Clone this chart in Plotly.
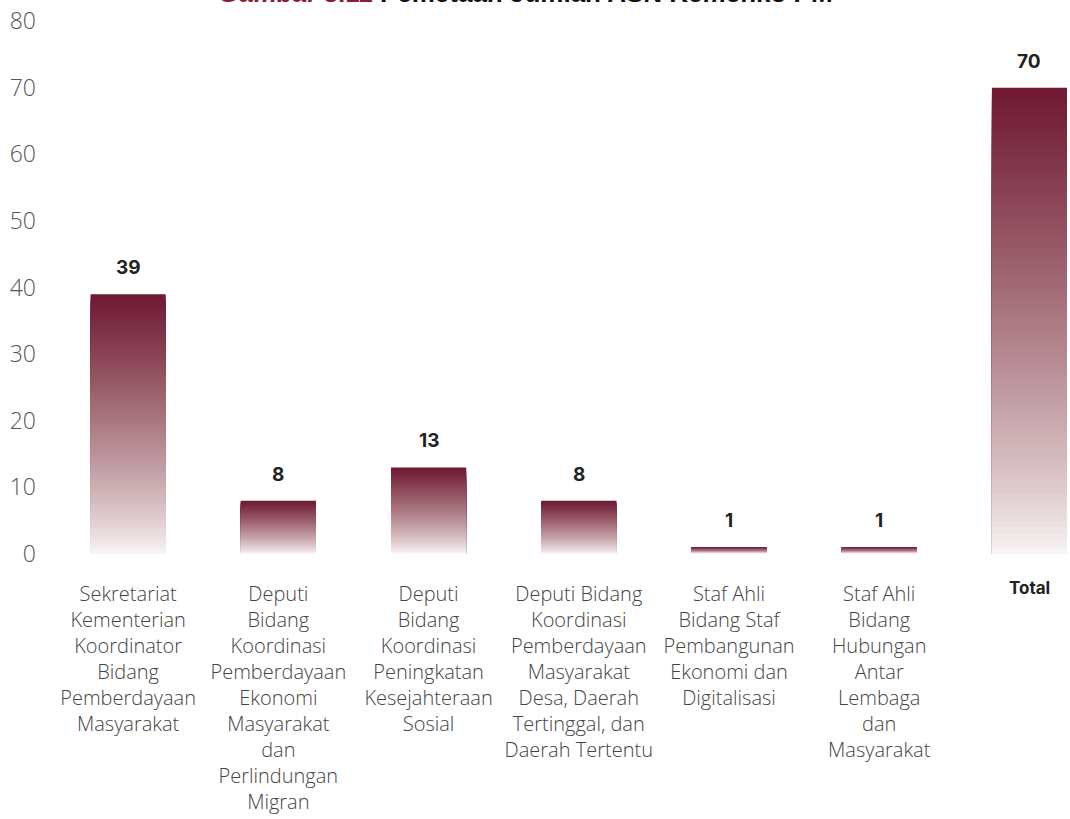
import plotly.graph_objects as go

# ---- data ----
categories = [
    "Sekretariat<br>Kementerian<br>Koordinator<br>Bidang<br>Pemberdayaan<br>Masyarakat",
    "Deputi<br>Bidang<br>Koordinasi<br>Pemberdayaan<br>Ekonomi<br>Masyarakat<br>dan<br>Perlindungan<br>Migran",
    "Deputi<br>Bidang<br>Koordinasi<br>Peningkatan<br>Kesejahteraan<br>Sosial",
    "Deputi Bidang<br>Koordinasi<br>Pemberdayaan<br>Masyarakat<br>Desa, Daerah<br>Tertinggal, dan<br>Daerah Tertentu",
    "Staf Ahli<br>Bidang Staf<br>Pembangunan<br>Ekonomi dan<br>Digitalisasi",
    "Staf Ahli<br>Bidang<br>Hubungan<br>Antar<br>Lembaga<br>dan<br>Masyarakat",
    "Total",
]
values = [39, 8, 13, 8, 1, 1, 70]
value_labels = ["39", "8", "13", "8", "1", "1", "70"]
y_ticks = [0, 10, 20, 30, 40, 50, 60, 70, 80]
title_red = "Gambar 3.11"
title_black = "Pemetaan Jumlah ASN Kemenko PM"

# ---- style ----
TOP = (111, 25, 50)
BOTTOM = (252, 250, 250)
N = 70


def mix(f):
    # f = 1 -> top colour, f -> 0 -> bottom colour
    g = f ** 0.82
    r = [round(BOTTOM[i] + (TOP[i] - BOTTOM[i]) * g) for i in range(3)]
    r[2] = max(0, r[2] - round(14 * g * (1 - g) * 4 / 4))
    return f"rgb({r[0]},{r[1]},{r[2]})"


fig = go.Figure()
# overlapping bars of decreasing height give a vertical gradient per bar
for k in range(N):
    f = (N - k) / N
    fig.add_trace(go.Bar(
        x=categories,
        y=[v * f for v in values],
        marker=dict(color=mix(f), line=dict(width=0)),
        hoverinfo="skip",
        showlegend=False,
    ))

LABEL_FONT = dict(family="Inter", size=19, color="#222222", weight=900)

# value labels
for c, v, t in zip(categories, values, value_labels):
    fig.add_annotation(
        x=c, y=v, text=f"<b>{t}</b>", showarrow=False,
        yanchor="bottom", yshift=13, font=LABEL_FONT,
    )

# "Total" category label in bold
fig.add_annotation(
    x=categories[-1], y=-0.064, yref="paper", text="<b>Total</b>",
    showarrow=False, yanchor="middle",
    font=dict(LABEL_FONT, size=17),
)

# title (partially cropped at top, as in reference)
fig.add_annotation(
    x=0.4655, xref="paper", y=1.021, yref="paper", yanchor="bottom",
    text=f"<span style='color:#8a1c36'>{title_red}</span> {title_black}",
    showarrow=False,
    font=dict(family="Liberation Sans", size=26, color="#111111", weight=900),
)

ticktext = [c if c != "Total" else "" for c in categories]

fig.update_layout(
    width=1070, height=819,
    barmode="overlay", bargap=0.5,
    plot_bgcolor="white", paper_bgcolor="white",
    margin=dict(l=53, r=3, t=21, b=265),
    xaxis=dict(
        type="category", range=[-0.5, 6.25],
        tickvals=categories, ticktext=ticktext,
        showgrid=False, zeroline=False, showline=False, ticks="",
        tickangle=0, ticklabelstandoff=26,
        tickfont=dict(family="Open Sans", size=20, color="#444444", weight=300),
    ),
    yaxis=dict(
        range=[0, 80], tickvals=y_ticks,
        showgrid=False, zeroline=False, showline=False, ticks="",
        ticklabelstandoff=16,
        tickfont=dict(family="Open Sans", size=23, color="#555555", weight=300),
    ),
)

fig.write_html("out.html", config={"displayModeBar": False},
               post_script="document.body.style.margin='0';")
